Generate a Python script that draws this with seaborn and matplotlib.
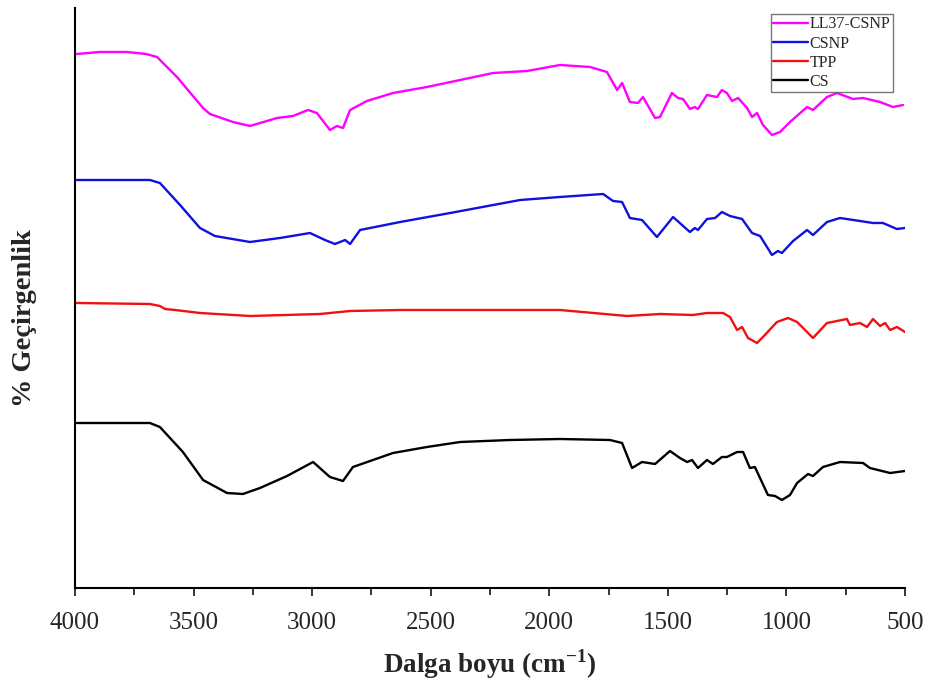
import numpy as np
import pandas as pd
import matplotlib
matplotlib.use("Agg")
import matplotlib.pyplot as plt
import seaborn as sns
from matplotlib.ticker import MultipleLocator

# ---- data (wavenumber cm-1, transmittance a.u. with offsets) ----
ll37_w = [3992, 3895, 3781, 3700, 3654, 3570, 3460, 3431, 3334, 3262, 3148, 3081, 3017, 2980,
          2925, 2895, 2870, 2840, 2769, 2659, 2516, 2376, 2237, 2094, 1955, 1828, 1757,
          1714, 1693, 1660, 1626, 1605, 1554, 1533, 1483, 1457, 1436, 1407, 1386, 1373,
          1335, 1293, 1272, 1251, 1229, 1204, 1166, 1145, 1124, 1099, 1061, 1027, 985,
          913, 888, 829, 787, 719, 677, 605, 551, 508]
ll37_t = [534, 536, 536, 534, 531, 511, 480, 474, 466, 462, 470, 472, 478, 475,
          458, 462, 460, 478, 487, 495, 501, 508, 515, 517, 523, 521, 516,
          498, 505, 486, 485, 491, 470, 471, 495, 490, 489, 479, 481, 479,
          493, 491, 498, 495, 487, 490, 480, 471, 475, 463, 453, 456, 466,
          481, 478, 491, 495, 489, 490, 486, 481, 483]

csnp_w = [3992, 3895, 3684, 3642, 3557, 3473, 3410, 3262, 3136, 3009, 2946, 2904, 2861,
          2840, 2798, 2629, 2418, 2123, 1955, 1773, 1731, 1693, 1660, 1609, 1546, 1478,
          1407, 1386, 1373, 1335, 1301, 1272, 1238, 1187, 1145, 1111, 1061, 1036, 1019,
          972, 913, 888, 829, 774, 690, 635, 593, 534, 500]
csnp_t = [408, 408, 408, 405, 383, 360, 352, 346, 350, 355, 348, 344, 348,
          344, 358, 366, 375, 388, 391, 394, 387, 386, 370, 368, 351, 371,
          356, 360, 358, 369, 370, 376, 372, 369, 355, 352, 333, 337, 335,
          347, 358, 353, 366, 370, 367, 365, 365, 359, 360]

tpp_w = [3992, 3684, 3642, 3620, 3578, 3473, 3262, 2967, 2840, 2629, 2208, 1955, 1672,
         1533, 1394, 1335, 1267, 1238, 1208, 1187, 1162, 1124, 1099, 1040, 993, 955,
         888, 829, 745, 732, 690, 660, 635, 605, 584, 563, 534, 500]
tpp_t = [285, 284, 282, 279, 278, 275, 272, 274, 277, 278, 278, 278, 272,
         274, 273, 275, 275, 271, 258, 261, 250, 245, 251, 266, 270, 266,
         250, 265, 269, 263, 265, 261, 269, 262, 265, 258, 261, 256]

cs_w = [3992, 3684, 3642, 3545, 3460, 3359, 3292, 3220, 3106, 2996, 2925, 2870, 2828,
        2659, 2516, 2376, 2166, 1955, 1744, 1693, 1651, 1609, 1554, 1491, 1449, 1419,
        1398, 1373, 1335, 1310, 1272, 1251, 1208, 1183, 1154, 1133, 1078, 1048, 1019,
        985, 955, 909, 888, 846, 774, 677, 648, 563, 500]
cs_t = [165, 165, 161, 136, 108, 95, 94, 100, 112, 126, 111, 107, 121,
        135, 141, 146, 148, 149, 148, 145, 120, 126, 124, 137, 130, 126,
        128, 120, 128, 124, 131, 131, 136, 136, 120, 121, 93, 92, 88,
        93, 105, 114, 112, 121, 126, 125, 120, 115, 117]

names = ["LL37-CSNP", "CSNP", "TPP", "CS"]
colors = ["#FF00FF", "#1010E0", "#F01010", "#000000"]

frames = []
for n, w, t in zip(names, [ll37_w, csnp_w, tpp_w, cs_w], [ll37_t, csnp_t, tpp_t, cs_t]):
    frames.append(pd.DataFrame({"w": w, "t": t, "s": n}))
df = pd.concat(frames, ignore_index=True)

sns.set_style("white")
plt.rcParams["font.family"] = ["Liberation Serif", "DejaVu Serif"]

fig = plt.figure(figsize=(9.3, 6.9), dpi=100)
ax = fig.add_axes([75 / 930, 102 / 690, 830 / 930, 580 / 690])

sns.lineplot(data=df, x="w", y="t", hue="s", hue_order=names,
             palette=dict(zip(names, colors)), sort=False, estimator=None,
             linewidth=1.7, ax=ax)

ax.set_xlim(4000, 500)
ax.set_ylim(0, 580)
ax.set_yticks([])
ax.xaxis.set_major_locator(MultipleLocator(500))
ax.xaxis.set_minor_locator(MultipleLocator(250))
ax.tick_params(axis="x", which="major", direction="out", length=6, width=1.3,
               labelsize=18, pad=11, bottom=True)
ax.tick_params(axis="x", which="minor", direction="out", length=5, width=1.3, bottom=True)
for s in ["top", "right"]:
    ax.spines[s].set_visible(False)
for s in ["left", "bottom"]:
    ax.spines[s].set_linewidth(1.5)
    ax.spines[s].set_color("black")

ax.set_xlabel("Dalga boyu (cm$^{\\mathregular{-1}}$)", fontsize=19.5, fontweight="bold", labelpad=10)
ax.set_ylabel("% Geçirgenlik", fontsize=20.5, fontweight="bold")
ax.yaxis.set_label_coords(-0.046, 0.4655)

leg = ax.legend(loc="upper right", bbox_to_anchor=(0.9855, 0.9897),
                fontsize=11.5, frameon=True, fancybox=False, handlelength=2.2,
                handletextpad=0.1, borderpad=0.15, labelspacing=0.2,
                borderaxespad=0, title=None)
leg.get_frame().set_edgecolor("#555555")
leg.get_frame().set_linewidth(1.0)

fig.savefig("out.png", dpi=100)
